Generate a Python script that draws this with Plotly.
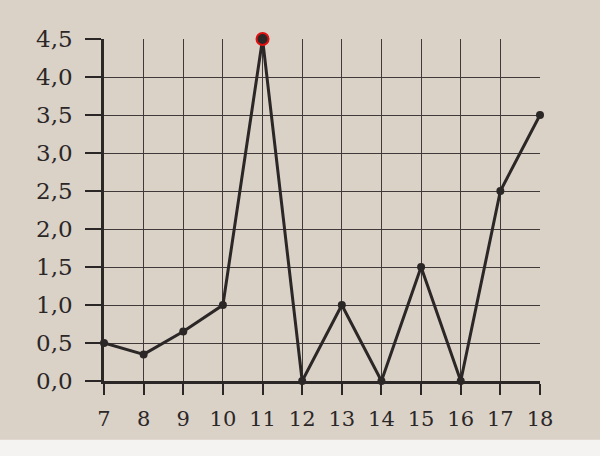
import plotly.graph_objects as go

x_vals = [7, 8, 9, 10, 11, 12, 13, 14, 15, 16, 17, 18]
y_vals = [0.5, 0.35, 0.65, 1.0, 4.5, 0.0, 1.0, 0.0, 1.5, 0.0, 2.5, 3.5]
y_ticks = [0.0, 0.5, 1.0, 1.5, 2.0, 2.5, 3.0, 3.5, 4.0, 4.5]
y_tick_labels = ["0,0", "0,5", "1,0", "1,5", "2,0", "2,5", "3,0", "3,5", "4,0", "4,5"]
highlight_x = [11]
highlight_y = [4.5]

ink = "#2b2727"
paper = "#dad1c7"
font_family = "DejaVu Serif, Liberation Serif, serif"

fig = go.Figure()
fig.add_trace(go.Scatter(
    x=x_vals, y=y_vals, mode="lines+markers",
    line=dict(color=ink, width=3),
    marker=dict(color=ink, size=8),
    cliponaxis=False, showlegend=False,
))
fig.add_trace(go.Scatter(
    x=highlight_x, y=highlight_y, mode="markers",
    marker=dict(color=ink, size=12, line=dict(color="#e01010", width=2)),
    cliponaxis=False, showlegend=False,
))

fig.update_layout(
    width=600, height=456,
    margin=dict(l=104, r=60, t=39, b=75),
    paper_bgcolor=paper, plot_bgcolor=paper,
    font=dict(family=font_family, color=ink, size=21),
    shapes=[dict(type="rect", xref="paper", yref="paper",
                 x0=-0.5, x1=1.5, y0=-0.172, y1=-0.3,
                 fillcolor="#f4f3f1", line=dict(width=0), layer="below")],
)
fig.update_xaxes(
    range=[7, 18], tickvals=x_vals, ticktext=[str(v) for v in x_vals],
    showgrid=True, gridcolor="#3f3939", gridwidth=1.4,
    showline=True, linecolor=ink, linewidth=2.5,
    ticks="outside", ticklen=11, tickwidth=1.5, tickcolor=ink,
    ticklabelstandoff=6, zeroline=False,
    tickfont=dict(size=21, family=font_family, color=ink),
)
fig.update_yaxes(
    range=[0, 4.5], tickvals=y_ticks, ticktext=y_tick_labels,
    showgrid=True, gridcolor="#3f3939", gridwidth=1.4,
    showline=True, linecolor=ink, linewidth=2.5,
    ticks="outside", ticklen=16, tickwidth=1.5, tickcolor=ink,
    ticklabelstandoff=8, zeroline=False,
    tickfont=dict(size=23, family=font_family, color=ink),
)

fig.write_html(
    "out.html",
    config={"displayModeBar": False},
    post_script="document.body.style.margin='0';document.body.style.padding='0';",
)
